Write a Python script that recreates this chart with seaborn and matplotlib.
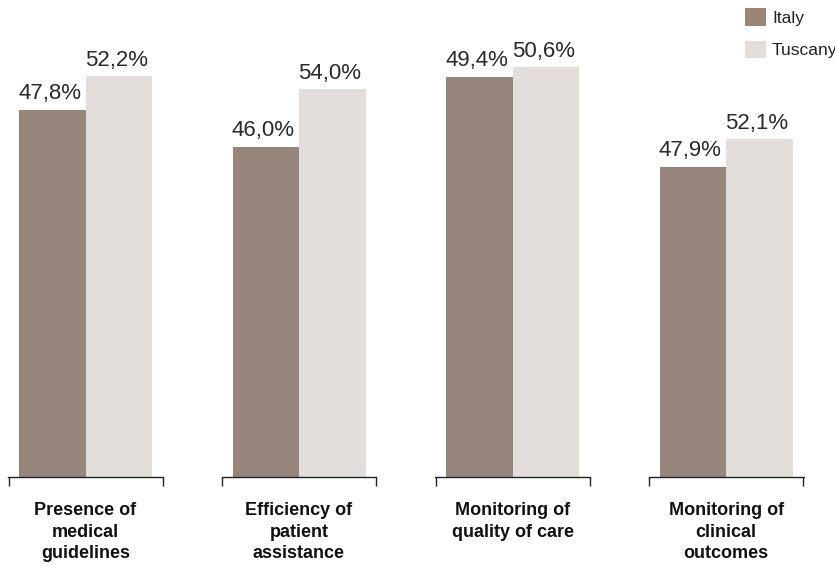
import matplotlib
matplotlib.use("Agg")
import matplotlib.pyplot as plt
from matplotlib.patches import Patch
import seaborn as sns
import pandas as pd

# ---- data ----
categories = ["Presence of\nmedical\nguidelines",
              "Efficiency of\npatient\nassistance",
              "Monitoring of\nquality of care",
              "Monitoring of\nclinical\noutcomes"]
regions = ["Italy", "Tuscany"]
italy = [47.8, 46.0, 49.4, 47.9]
tuscany = [52.2, 54.0, 50.6, 52.1]
value_labels_italy = ["47,8%", "46,0%", "49,4%", "47,9%"]
value_labels_tuscany = ["52,2%", "54,0%", "50,6%", "52,1%"]

# per-panel y-axis upper limits (each panel has its own scale in the original)
panel_ymax = [60.8, 65.0, 57.65, 72.07]

colors = {"Italy": "#9b8476", "Tuscany": "#e4ddda"}

sns.set_style("white")
plt.rcParams["font.family"] = ["Liberation Sans", "DejaVu Sans"]

W, H = 835, 566
fig = plt.figure(figsize=(W / 100, H / 100), dpi=100)

left_px = [8.3, 221.7, 435.3, 649.0]
ax_w_px = 154.5
bottom_px = 477.0
top_px = 10.0
xmin, xmax = -0.665, 1.66

for i, cat in enumerate(categories):
    ax = fig.add_axes([left_px[i] / W, 1 - bottom_px / H,
                       ax_w_px / W, (bottom_px - top_px) / H])
    df = pd.DataFrame({"region": regions, "value": [italy[i], tuscany[i]]})
    sns.barplot(data=df, x="region", y="value", hue="region",
                palette=colors, width=1.0, linewidth=0, legend=False, ax=ax)
    ax.set_xlim(xmin, xmax)
    ax.set_ylim(0, panel_ymax[i])
    for s in ["left", "right", "top"]:
        ax.spines[s].set_visible(False)
    ax.spines["bottom"].set_color("#222222")
    ax.spines["bottom"].set_linewidth(1.0)
    ax.set_yticks([])
    ax.set_xticks([xmin + 0.004, xmax - 0.004])
    ax.set_xticklabels(["", ""])
    ax.tick_params(axis="x", bottom=True, direction="out", length=6.5,
                   width=1.0, color="#222222")
    ax.set_xlabel("")
    ax.set_ylabel("")
    for j, (v, lab) in enumerate(zip([italy[i], tuscany[i]],
                                     [value_labels_italy[i], value_labels_tuscany[i]])):
        ax.annotate(lab, xy=(j, v), xytext=(-2, 7.5), textcoords="offset points",
                    ha="center", va="baseline", fontsize=16, color="#2a2a2a")
    cx = (left_px[i] + ax_w_px / 2) / W
    fig.text(cx, 1 - 502 / H, cat, ha="center", va="top", fontsize=13,
             fontweight="bold", color="#111111", linespacing=1.35)

handles = [Patch(facecolor=colors[r], edgecolor="none") for r in regions]
fig.legend(handles, regions, loc="upper left",
           bbox_to_anchor=(745 / W, 1 - 8 / H), frameon=False,
           fontsize=12.5, handlelength=1.2, handleheight=1.2,
           handletextpad=0.35, labelspacing=0.85, borderpad=0,
           borderaxespad=0, labelcolor="#222222")

fig.savefig("out.png", dpi=100)
